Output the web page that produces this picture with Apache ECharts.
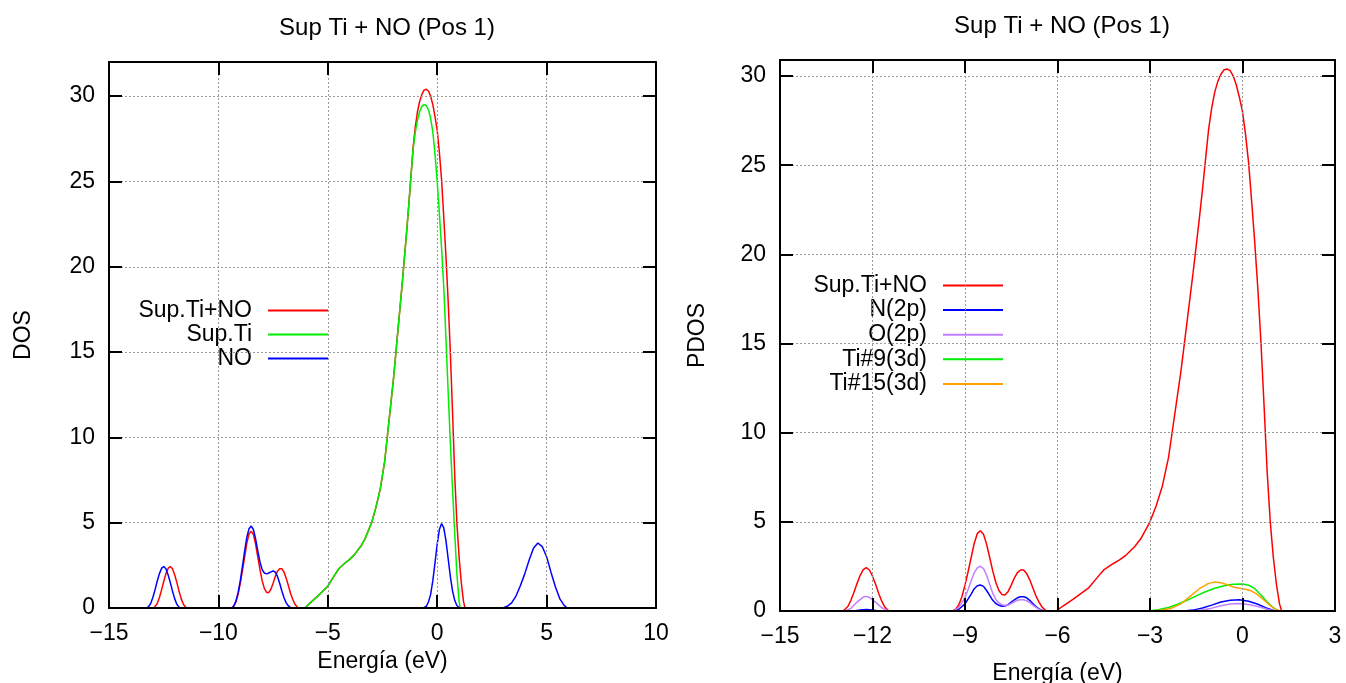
<!DOCTYPE html>
<html>
<head>
<meta charset="utf-8">
<title>Sup Ti + NO (Pos 1)</title>
<script src="https://cdn.jsdelivr.net/npm/echarts@6/dist/echarts.min.js"></script>
<style>
  html, body { margin: 0; padding: 0; background: #fff; }
  #main { width: 1346px; height: 683px; }
</style>
</head>
<body>
<div id="main"></div>
<script>
// energies (eV) and DOS values, as [E, DOS] pairs
// a null value breaks the line where the curve lies on the zero axis
var supTiNO = [[-12.95,0],[-12.9,0.07],[-12.8,0.25],[-12.7,0.6],[-12.6,1.05],[-12.5,1.55],[-12.4,2.0],[-12.3,2.32],[-12.2,2.43],[-12.1,2.3],[-12.0,1.95],[-11.9,1.5],[-11.8,1.0],[-11.7,0.55],[-11.6,0.22],[-11.5,0.05],[-11.45,0],[-10.5,null],
  [-9.4,0],[-9.3,0.1],[-9.2,0.35],[-9.1,0.8],[-9.0,1.45],[-8.9,2.2],[-8.8,3.0],[-8.7,3.8],[-8.6,4.35],[-8.5,4.5],[-8.4,4.3],[-8.3,3.75],[-8.2,3.0],[-8.1,2.25],[-8.0,1.6],[-7.9,1.15],[-7.8,0.92],[-7.7,0.9],[-7.6,1.1],[-7.5,1.45],[-7.4,1.85],[-7.3,2.15],[-7.2,2.3],[-7.1,2.3],[-7.0,2.1],[-6.9,1.75],[-6.8,1.3],[-6.7,0.85],[-6.6,0.5],[-6.5,0.22],[-6.4,0.06],[-6.35,0],[-6.2,null],
  [-6.05,0],[-5.8,0.3],[-5.5,0.65],[-5.0,1.28],[-4.7,1.9],[-4.5,2.3],[-4.2,2.65],[-4.0,2.85],[-3.8,3.1],[-3.5,3.6],[-3.3,4.05],[-3.0,5.0],[-2.8,5.9],[-2.6,7.0],[-2.4,8.6],[-2.3,9.8],[-2.2,11.0],[-2.1,12.2],[-2.0,13.4],[-1.9,14.8],[-1.8,16.2],[-1.7,17.6],[-1.6,19.0],[-1.5,20.5],[-1.4,22.0],[-1.3,23.6],[-1.2,25.3],[-1.1,27.0],[-1.0,28.2],[-0.9,29.1],[-0.8,29.7],[-0.7,30.1],[-0.6,30.35],[-0.5,30.4],[-0.4,30.3],[-0.3,30.0],[-0.2,29.5],[-0.1,28.8],[0.0,28.0],[0.1,26.7],[0.2,25.1],[0.3,22.9],[0.4,20.6],[0.5,18.0],[0.6,15.0],[0.7,11.5],[0.8,7.8],[0.9,5.0],[1.0,3.0],[1.1,1.5],[1.2,0.4],[1.27,0]];

var supTi = [[-6.05,0],[-5.8,0.3],[-5.5,0.65],[-5.0,1.28],[-4.7,1.9],[-4.5,2.3],[-4.2,2.65],[-4.0,2.85],[-3.8,3.1],[-3.5,3.6],[-3.3,4.05],[-3.0,5.0],[-2.8,5.9],[-2.6,7.0],[-2.4,8.6],[-2.3,9.8],[-2.2,11.0],[-2.1,12.2],[-2.0,13.4],[-1.9,14.8],[-1.8,16.2],[-1.7,17.6],[-1.6,19.0],[-1.5,20.5],[-1.4,22.0],[-1.3,23.6],[-1.2,25.3],[-1.1,26.9],[-1.0,27.9],[-0.9,28.6],[-0.8,29.1],[-0.7,29.4],[-0.6,29.5],[-0.5,29.45],[-0.4,29.2],[-0.3,28.7],[-0.2,27.9],[-0.1,26.6],[0.0,25.0],[0.1,23.1],[0.2,21.1],[0.3,18.8],[0.4,15.8],[0.5,12.7],[0.6,9.7],[0.7,7.0],[0.8,4.4],[0.9,2.0],[1.0,0.4],[1.05,0]];

var no = [[-13.3,0],[-13.2,0.07],[-13.1,0.25],[-13.0,0.6],[-12.9,1.05],[-12.8,1.55],[-12.7,2.0],[-12.6,2.32],[-12.5,2.43],[-12.4,2.3],[-12.3,1.95],[-12.2,1.5],[-12.1,1.0],[-12.0,0.55],[-11.9,0.22],[-11.8,0.05],[-11.75,0],[-10.5,null],
  [-9.4,0],[-9.3,0.12],[-9.2,0.4],[-9.1,0.9],[-9.0,1.6],[-8.9,2.45],[-8.8,3.35],[-8.7,4.15],[-8.6,4.65],[-8.5,4.8],[-8.4,4.6],[-8.3,4.05],[-8.2,3.35],[-8.1,2.7],[-8.0,2.25],[-7.9,2.05],[-7.8,2.0],[-7.7,2.05],[-7.6,2.12],[-7.5,2.17],[-7.4,2.1],[-7.3,1.85],[-7.2,1.45],[-7.1,1.0],[-7.0,0.6],[-6.9,0.3],[-6.8,0.12],[-6.7,0.02],[-6.65,0],[-3,null],
  [-0.65,0],[-0.5,0.1],[-0.4,0.35],[-0.3,0.8],[-0.2,1.6],[-0.1,2.65],[0.0,3.75],[0.1,4.6],[0.2,4.95],[0.3,4.7],[0.4,3.95],[0.5,2.9],[0.6,1.85],[0.7,1.0],[0.8,0.45],[0.9,0.15],[1.0,0.03],[1.05,0],[2,null],
  [3.0,0],[3.2,0.1],[3.4,0.3],[3.6,0.7],[3.8,1.3],[4.0,2.0],[4.2,2.8],[4.4,3.5],[4.6,3.81],[4.8,3.6],[5.0,3.0],[5.2,2.1],[5.4,1.25],[5.6,0.55],[5.8,0.15],[5.95,0]];

var n2p = [[-12.6,0],[-12.4,0.05],[-12.2,0.08],[-12.0,0.05],[-11.8,0],[-10.5,null],
  [-9.35,0],[-9.2,0.1],[-9.0,0.4],[-8.8,0.95],[-8.7,1.25],[-8.6,1.42],[-8.5,1.46],[-8.4,1.38],[-8.3,1.15],[-8.2,0.88],[-8.1,0.6],[-8.0,0.42],[-7.9,0.32],[-7.8,0.27],[-7.7,0.28],[-7.6,0.36],[-7.5,0.5],[-7.4,0.63],[-7.3,0.74],[-7.2,0.8],[-7.1,0.8],[-7.0,0.74],[-6.9,0.6],[-6.8,0.42],[-6.7,0.25],[-6.6,0.12],[-6.5,0.04],[-6.4,0],[-4,null],
  [-1.9,0],[-1.6,0.05],[-1.3,0.17],[-1.0,0.33],[-0.7,0.5],[-0.4,0.6],[-0.1,0.63],[0.2,0.55],[0.5,0.38],[0.8,0.15],[1.05,0]];

var o2p = [[-12.9,0],[-12.7,0.15],[-12.5,0.5],[-12.3,0.78],[-12.2,0.82],[-12.1,0.76],[-11.9,0.5],[-11.7,0.18],[-11.5,0.02],[-11.45,0],[-10.5,null],
  [-9.37,0],[-9.2,0.2],[-9.0,0.75],[-8.9,1.2],[-8.8,1.7],[-8.7,2.15],[-8.6,2.42],[-8.5,2.51],[-8.4,2.38],[-8.3,2.0],[-8.2,1.5],[-8.1,1.0],[-8.0,0.65],[-7.9,0.45],[-7.8,0.35],[-7.7,0.31],[-7.6,0.33],[-7.5,0.42],[-7.4,0.52],[-7.3,0.6],[-7.2,0.63],[-7.1,0.63],[-7.0,0.58],[-6.9,0.47],[-6.8,0.33],[-6.7,0.2],[-6.6,0.09],[-6.5,0.03],[-6.4,0],[-4,null],
  [-1.6,0],[-1.3,0.05],[-1.0,0.16],[-0.7,0.29],[-0.4,0.39],[-0.1,0.42],[0.2,0.37],[0.5,0.25],[0.8,0.1],[1.05,0]];

var ti9 = [[-3.0,0],[-2.7,0.08],[-2.4,0.2],[-2.1,0.38],[-1.8,0.6],[-1.5,0.85],[-1.2,1.08],[-0.9,1.28],[-0.6,1.42],[-0.3,1.5],[0.0,1.52],[0.2,1.45],[0.4,1.25],[0.6,0.9],[0.8,0.5],[1.0,0.18],[1.17,0]];

var ti15 = [[-2.93,0],[-2.6,0.05],[-2.3,0.16],[-2.0,0.4],[-1.7,0.82],[-1.4,1.25],[-1.1,1.55],[-0.9,1.62],[-0.7,1.58],[-0.5,1.48],[-0.3,1.35],[-0.1,1.27],[0.1,1.22],[0.3,1.12],[0.5,0.9],[0.7,0.6],[0.9,0.3],[1.1,0.08],[1.22,0]];

var titleText = 'Sup Ti + NO (Pos 1)';
var xName = 'Energía (eV)';

var chart = echarts.init(document.getElementById('main'));
var font = 'Liberation Sans, Arial, Helvetica, sans-serif';

function minus(v) { return String(v).replace('-', '\u2212'); }

function frameAxis(grid, pos, min, max, interval, labels, extra) {
  var ax = {
    gridIndex: grid, type: 'value', position: pos, min: min, max: max, interval: interval, z: 5,
    axisLine: { onZero: false, lineStyle: { color: '#000', width: 2 } },
    axisTick: { inside: true, length: 13, lineStyle: { color: '#000', width: 2 } },
    axisLabel: { show: labels, fontSize: 23, color: '#000', fontFamily: font, margin: 14,
      formatter: function (v) { return v % interval === 0 ? minus(v) : ''; } },
    splitLine: { show: labels, lineStyle: { color: '#999', width: 1, type: [2, 2] } }
  };
  for (var k in extra) ax[k] = extra[k];
  return ax;
}

var nameStyle = { fontSize: 23, color: '#000', fontFamily: font };

function line(name, data, color, xi, yi) {
  return { name: name, type: 'line', data: data, xAxisIndex: xi, yAxisIndex: yi, connectNulls: false,
    showSymbol: false, symbol: 'none', lineStyle: { color: color, width: 1.5 }, itemStyle: { color: color } };
}

var legendBase = {
  orient: 'vertical', align: 'right', icon: 'rect', itemWidth: 60, itemHeight: 2, itemGap: 1,
  backgroundColor: '#fff', selectedMode: false,
  textStyle: { fontSize: 23, color: '#000', fontFamily: font, padding: [0, 11, 0, 0] }
};

var titleStyle = { fontSize: 24, fontWeight: 'normal', color: '#000', fontFamily: font };

var option = {
  animation: false,
  backgroundColor: '#fff',
  title: [
    { text: titleText, left: 382, top: 11, textAlign: 'center', textStyle: titleStyle },
    { text: titleText, left: 1057, top: 9, textAlign: 'center', textStyle: titleStyle }
  ],
  legend: [
    Object.assign({}, legendBase, { data: ['Sup.Ti+NO', 'Sup.Ti', 'NO'], right: 1003, top: 298, padding: [1, 15, 2, 13] }),
    Object.assign({}, legendBase, { data: ['Sup.Ti+NO', 'N(2p)', 'O(2p)', 'Ti#9(3d)', 'Ti#15(3d)'], right: 328, top: 273, itemGap: 1.6, padding: [1, 15, 2, 10] })
  ],
  grid: [
    { left: 109, right: 690, top: 62, bottom: 75, outerBoundsMode: 'none', containLabel: false },
    { left: 780, right: 11, top: 60, bottom: 72, outerBoundsMode: 'none', containLabel: false }
  ],
  xAxis: [
    frameAxis(0, 'bottom', -15, 10, 5, true, { name: xName, nameLocation: 'middle', nameGap: 40, nameTextStyle: nameStyle }),
    frameAxis(0, 'top', -15, 10, 5, false, {}),
    frameAxis(1, 'bottom', -15, 3, 3, true, { name: xName, nameLocation: 'middle', nameGap: 51, nameTextStyle: nameStyle }),
    frameAxis(1, 'top', -15, 3, 3, false, {})
  ],
  yAxis: [
    frameAxis(0, 'left', 0, 32, 5, true, { name: 'DOS', nameLocation: 'middle', nameGap: 74, nameTextStyle: nameStyle }),
    frameAxis(0, 'right', 0, 32, 5, false, {}),
    frameAxis(1, 'left', 0, 30.9, 5, true, { name: 'PDOS', nameLocation: 'middle', nameGap: 71, nameTextStyle: nameStyle }),
    frameAxis(1, 'right', 0, 30.9, 5, false, {})
  ],
  series: [
    line('Sup.Ti+NO', supTiNO, '#ff0000', 0, 0),
    line('Sup.Ti', supTi, '#00ee00', 0, 0),
    line('NO', no, '#0000ff', 0, 0),
    line('Sup.Ti+NO', supTiNO, '#ff0000', 2, 2),
    line('N(2p)', n2p, '#0000ff', 2, 2),
    line('O(2p)', o2p, '#c080ff', 2, 2),
    line('Ti#9(3d)', ti9, '#00ee00', 2, 2),
    line('Ti#15(3d)', ti15, '#ffa000', 2, 2)
  ]
};

chart.setOption(option);
</script>
</body>
</html>
